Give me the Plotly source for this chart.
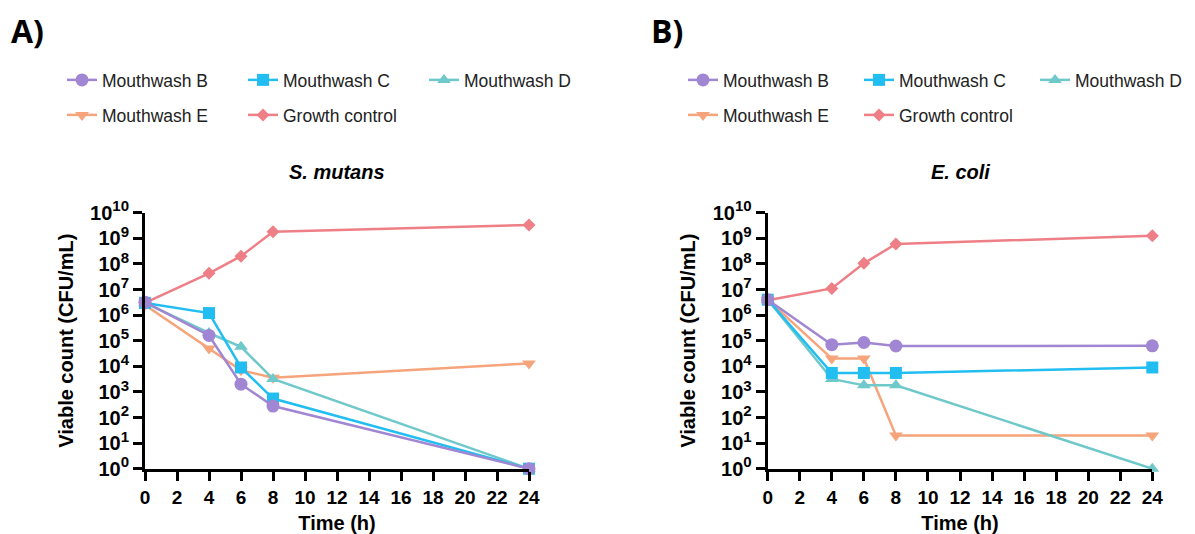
import plotly.graph_objects as go

# ---------------- data ----------------
time_h = [0, 4, 6, 8, 24]

series_names = ["Mouthwash B", "Mouthwash C", "Mouthwash D", "Mouthwash E", "Growth control"]

# Panel A: S. mutans (CFU/mL)
smutans_B = [3.2e6, 1.6e5, 2.0e3, 2.8e2, 1]
smutans_C = [3.0e6, 1.2e6, 9.0e3, 5.5e2, 1]
smutans_D = [3.0e6, 2.0e5, 5.8e4, 3.2e3, 1]
smutans_E = [2.5e6, 5.0e4, 7.0e3, 3.6e3, 1.3e4]
smutans_GC = [3.0e6, 4.3e7, 2.0e8, 1.8e9, 3.3e9]

# Panel B: E. coli (CFU/mL)
ecoli_B = [4.0e6, 7.0e4, 8.5e4, 6.2e4, 6.3e4]
ecoli_C = [4.0e6, 5.5e3, 5.5e3, 5.5e3, 9.0e3]
ecoli_D = [4.0e6, 3.2e3, 1.8e3, 1.8e3, 1]
ecoli_E = [4.0e6, 2.0e4, 2.0e4, 20, 20]
ecoli_GC = [3.8e6, 1.1e7, 1.05e8, 6.0e8, 1.25e9]

x_ticks = [0, 2, 4, 6, 8, 10, 12, 14, 16, 18, 20, 22, 24]
y_exponents = list(range(0, 11))

# ---------------- styles ----------------
colors = {
    "Mouthwash B": "#A086D3",
    "Mouthwash C": "#22BEF2",
    "Mouthwash D": "#6FC8C9",
    "Mouthwash E": "#F5A47B",
    "Growth control": "#EE7F86",
}
symbols = {
    "Mouthwash B": ("circle", 13),
    "Mouthwash C": ("square", 12),
    "Mouthwash D": ("triangle-up", 12),
    "Mouthwash E": ("triangle-down", 12),
    "Growth control": ("diamond", 10),
}
rank = {n: i + 1 for i, n in enumerate(series_names)}
row_of = {"Mouthwash B": 0, "Mouthwash C": 0, "Mouthwash D": 0,
          "Mouthwash E": 1, "Growth control": 1}

FONT = "Liberation Sans, Arial, sans-serif"
OFF = 8  # page body margin
W, H = 1195 - OFF, 534 - OFF

def px(xr):
    return (xr - OFF) / W

def py(yr):
    return 1 - (yr - OFF) / H

panels = [
    ("x", "y", {"Mouthwash B": smutans_B, "Mouthwash C": smutans_C, "Mouthwash D": smutans_D,
                "Mouthwash E": smutans_E, "Growth control": smutans_GC}, ["legend", "legend2"]),
    ("x2", "y2", {"Mouthwash B": ecoli_B, "Mouthwash C": ecoli_C, "Mouthwash D": ecoli_D,
                  "Mouthwash E": ecoli_E, "Growth control": ecoli_GC}, ["legend3", "legend4"]),
]

fig = go.Figure()
draw_order = ["Growth control", "Mouthwash E", "Mouthwash D", "Mouthwash C", "Mouthwash B"]
for xa, ya, data, legs in panels:
    for name in draw_order:
        sym, sz = symbols[name]
        fig.add_trace(go.Scatter(
            x=time_h, y=data[name], name=name, mode="lines+markers",
            xaxis=xa, yaxis=ya,
            line=dict(color=colors[name], width=2.5),
            marker=dict(symbol=sym, size=sz, color=colors[name]),
            cliponaxis=False,
            legend=legs[row_of[name]], legendrank=rank[name],
        ))

ytext = ["<b>10<sup><span style='font-size:15px'>%d</span></sup></b>" % e for e in y_exponents]
yvals = [10 ** e for e in y_exponents]
xtext = ["<b>%d</b>" % t for t in x_ticks]

def xaxis(dom):
    return dict(domain=dom, range=[0, 24], showline=True, linecolor="black", linewidth=3,
                ticks="outside", ticklen=9, tickwidth=2.5, tickcolor="black",
                tickvals=x_ticks, ticktext=xtext, showgrid=False, zeroline=False, automargin=False,
                tickfont=dict(family=FONT, size=19, color="black"),
                title=dict(text="<b>Time (h)</b>", font=dict(family=FONT, size=20, color="black"), standoff=10))

def yaxis(anchor):
    return dict(domain=[py(468.7), py(212.7)], type="log", range=[0, 10], anchor=anchor,
                showline=True, linecolor="black", linewidth=3,
                ticks="outside", ticklen=9, tickwidth=2.5, tickcolor="black",
                tickvals=yvals, ticktext=ytext, showgrid=False, zeroline=False, automargin=False,
                tickfont=dict(family=FONT, size=20, color="black"),
                title=dict(text="<b>Viable count (CFU/mL)</b>", font=dict(family=FONT, size=20, color="black"), standoff=12))

def legend(xpx, ypx, ew=136):
    return dict(orientation="h", x=px(xpx), xanchor="left", y=py(ypx), yanchor="middle",
                entrywidth=ew, entrywidthmode="pixels", bgcolor="rgba(0,0,0,0)",
                font=dict(family=FONT, size=17.5, color="#222"), traceorder="normal")

fig.update_layout(
    width=W, height=H, margin=dict(l=0, r=0, t=0, b=0, autoexpand=False),
    paper_bgcolor="white", plot_bgcolor="white",
    xaxis=dict(xaxis([px(145), px(529)]), anchor="y"),
    yaxis=yaxis("x"),
    xaxis2=dict(xaxis([px(767.7), px(1152.3)]), anchor="y2"),
    yaxis2=yaxis("x2"),
    legend=legend(62, 80), legend2=legend(62, 115),
    legend3=legend(683, 80, 131), legend4=legend(683, 115, 131),
    annotations=[
        dict(text="<b>A)</b>", x=px(9), y=py(31), xref="paper", yref="paper", xanchor="left",
             yanchor="middle", showarrow=False, font=dict(family="Open Sans, sans-serif", size=32, color="black")),
        dict(text="<b>B)</b>", x=px(649), y=py(31), xref="paper", yref="paper", xanchor="left",
             yanchor="middle", showarrow=False, font=dict(family="Open Sans, sans-serif", size=32, color="black")),
        dict(text="<b><i>S. mutans</i></b>", x=px(337), y=py(172), xref="paper", yref="paper",
             xanchor="center", yanchor="middle", showarrow=False, font=dict(family=FONT, size=20, color="black")),
        dict(text="<b><i>E. coli</i></b>", x=px(960), y=py(172), xref="paper", yref="paper",
             xanchor="center", yanchor="middle", showarrow=False, font=dict(family=FONT, size=20, color="black")),
    ],
)

fig.write_html("out.html")
